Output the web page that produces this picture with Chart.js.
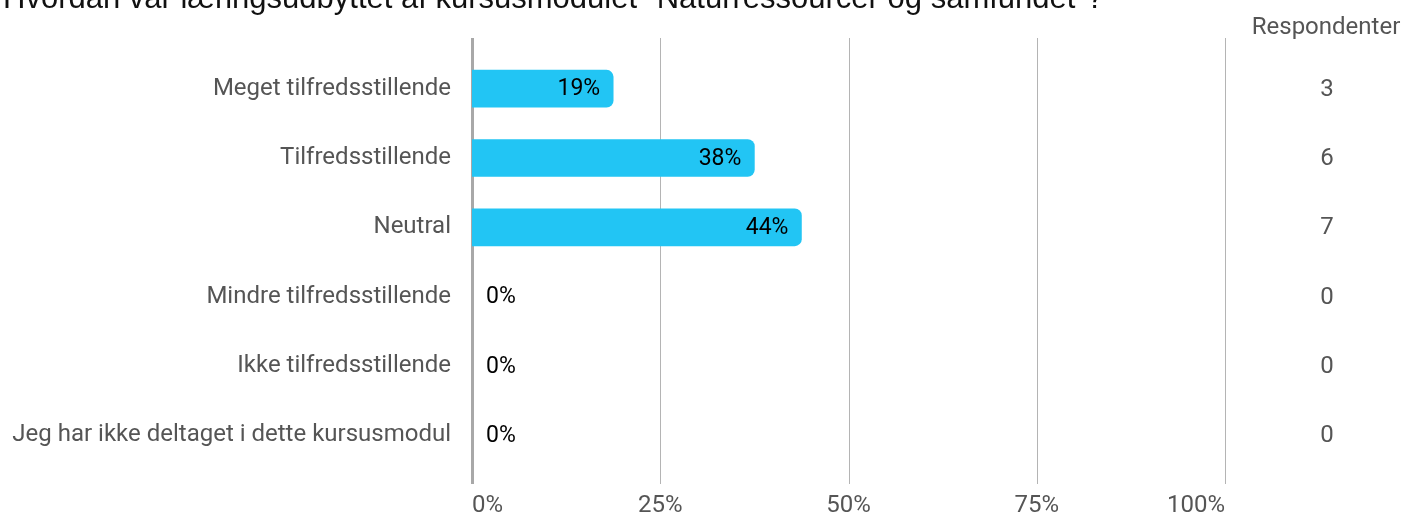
<!DOCTYPE html>
<html>
<head>
<meta charset="utf-8">
<script src="https://cdn.jsdelivr.net/npm/chart.js@4"></script>
<style>
  html, body { margin: 0; padding: 0; background: #fff; overflow: hidden; }
  #wrap { position: relative; width: 1418px; height: 518px; }
  #title { position: absolute; left: 3px; top: -20px; font-family: "Liberation Sans", Arial, sans-serif; font-size: 31px; color: #111; white-space: nowrap; }
</style>
</head>
<body>
<div id="wrap">
  <canvas id="c" width="1418" height="518"></canvas>
  <div id="title">Hvordan var læringsudbyttet af kursusmodulet "Naturressourcer og samfundet"?</div>
</div>
<script>
// data
const categories = ['Meget tilfredsstillende', 'Tilfredsstillende', 'Neutral', 'Mindre tilfredsstillende', 'Ikke tilfredsstillende', 'Jeg har ikke deltaget i dette kursusmodul'];
const percents = [18.75, 37.5, 43.75, 0, 0, 0];
const respondents = [3, 6, 7, 0, 0, 0];
const xTicks = [0, 25, 50, 75, 100];

const FONT = 'Roboto, "Noto Sans", sans-serif';

// grid lines drawn a little past the plot area, like the original
const gridPlugin = {
  id: 'grid',
  beforeDatasetsDraw(chart) {
    const { ctx, chartArea, scales } = chart;
    ctx.save();
    xTicks.forEach(t => {
      const x = Math.round(scales.x.getPixelForValue(t)) + 0.5;
      ctx.beginPath();
      ctx.lineWidth = t === 0 ? 3 : 1;
      ctx.strokeStyle = t === 0 ? '#a8a8a8' : '#b4b4b4';
      ctx.moveTo(x, chartArea.top - 16);
      ctx.lineTo(x, chartArea.bottom + 14);
      ctx.stroke();
    });
    ctx.restore();
  }
};

// value labels + respondent column
const labelPlugin = {
  id: 'labels',
  afterDatasetsDraw(chart) {
    const { ctx, scales } = chart;
    const meta = chart.getDatasetMeta(0);
    ctx.save();
    ctx.textBaseline = 'middle';
    meta.data.forEach((bar, i) => {
      const txt = Math.round(percents[i]) + '%';
      ctx.font = '23px ' + FONT;
      ctx.fillStyle = '#000';
      if (percents[i] > 0) {
        ctx.textAlign = 'right';
        ctx.fillText(txt, bar.x - 13, bar.y + 1);
      } else {
        ctx.textAlign = 'left';
        ctx.fillText(txt, bar.base + 14, bar.y + 1);
      }
      ctx.font = '24px ' + FONT;
      ctx.fillStyle = '#555';
      ctx.textAlign = 'center';
      ctx.fillText(String(respondents[i]), 1327, scales.y.getPixelForValue(i) + 1);
    });
    ctx.font = '24px ' + FONT;
    ctx.fillStyle = '#555';
    ctx.textAlign = 'center';
    ctx.fillText('Respondenter', 1326, 28);
    ctx.restore();
  }
};

new Chart(document.getElementById('c'), {
  type: 'bar',
  data: {
    labels: categories,
    datasets: [{
      data: percents,
      backgroundColor: c => (c.raw > 0 ? '#22c5f4' : 'rgba(0,0,0,0)'),
      borderRadius: { topRight: 7, bottomRight: 7, topLeft: 0, bottomLeft: 0 },
      borderSkipped: false,
      barThickness: 37
    }]
  },
  options: {
    indexAxis: 'y',
    responsive: false,
    animation: false,
    layout: { padding: { top: 54, right: 193, left: 0, bottom: 0 } },
    plugins: { legend: { display: false }, tooltip: { enabled: false }, title: { display: false } },
    scales: {
      x: {
        min: 0, max: 100,
        afterBuildTicks(scale) { scale.ticks = xTicks.map(v => ({ value: v })); },
        afterFit(scale) { scale.height = 48; },
        grid: { display: false, drawTicks: false },
        border: { display: false },
        ticks: { padding: 22, align: 'inner', maxRotation: 0, color: '#555', font: { family: FONT, size: 24 }, callback: v => v + '%' }
      },
      y: {
        afterFit(scale) { scale.width = 472; },
        grid: { display: false, drawTicks: false },
        border: { display: false },
        ticks: { padding: 21, color: '#555', font: { family: FONT, size: 24 } }
      }
    }
  },
  plugins: [gridPlugin, labelPlugin]
});
</script>
</body>
</html>
